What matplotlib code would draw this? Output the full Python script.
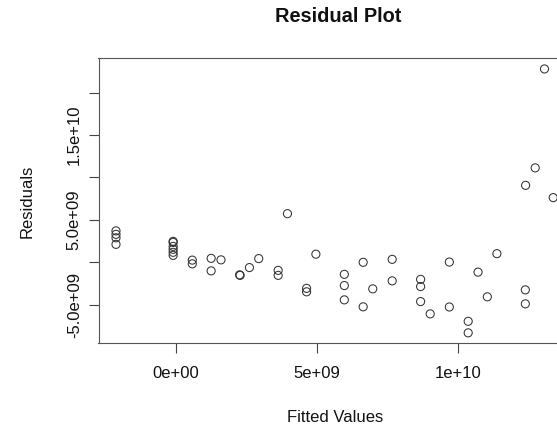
import matplotlib
matplotlib.use("Agg")
import matplotlib.pyplot as plt
import numpy as np

plt.rcParams['font.family'] = ['Liberation Sans', 'DejaVu Sans']

fitted = np.array([
    -2.14, -2.14, -2.14, -2.14,
    -0.11, -0.11, -0.11, -0.11, -0.11, -0.11,
    0.57, 0.57, 1.24, 1.24, 1.59, 2.25, 2.27, 2.60, 2.93, 3.62, 3.62,
    3.95, 4.63, 4.63, 4.96, 5.97, 5.97, 5.97, 6.64, 6.64, 6.98, 7.67, 7.67,
    8.68, 8.68, 8.68, 9.02, 9.70, 9.70, 10.37, 10.37, 10.72, 11.05, 11.39,
    12.40, 12.40, 12.41, 12.75, 13.08, 13.39]) * 1e9
residuals = np.array([
    3.69, 3.28, 2.87, 2.10,
    2.45, 2.33, 1.86, 1.51, 1.16, 0.80,
    0.24, -0.20, 0.45, -1.03, 0.27, -1.50, -1.56, -0.64, 0.42, -0.97, -1.56,
    5.72, -3.09, -3.50, 0.94, -1.44, -2.76, -4.45, -0.02, -5.27, -3.15, 0.33, -2.21,
    -2.03, -2.88, -4.65, -6.10, 0.01, -5.29, -6.98, -8.34, -1.18, -4.09, 1.00,
    -3.27, -4.92, 9.06, 11.12, 22.79, 7.61]) * 1e9

x_ticks = [0, 5e9, 1e10]
x_tick_labels = ["0e+00", "5e+09", "1e+10"]
y_ticks = [-5e9, 0, 5e9, 1e10, 1.5e10, 2e10]
y_tick_labels = ["-5.0e+09", "", "5.0e+09", "", "1.5e+10", ""]

W, H = 557, 426
fig = plt.figure(figsize=(W / 100, H / 100), dpi=100)
fig.patch.set_facecolor('white')

left, right, top, bottom = 98.5, 570.7, 58.4, 343.4
ax = fig.add_axes([left / W, 1 - bottom / H, (right - left) / W, (bottom - top) / H])

ax.scatter(fitted, residuals, s=34, facecolors='none', edgecolors='#333333', linewidths=0.75, zorder=3)

def rpad(a):
    lo, hi = np.min(a), np.max(a)
    r = hi - lo
    return lo - 0.04 * r, hi + 0.04 * r

ax.set_xlim(*rpad(fitted))
ax.set_ylim(*rpad(residuals))

ax.set_xticks(x_ticks)
ax.set_xticklabels(x_tick_labels)
ax.set_yticks(y_ticks)
ax.set_yticklabels(y_tick_labels, rotation=90, va='center')

for s in ax.spines.values():
    s.set_color('#555555')
    s.set_linewidth(0.8)

ax.tick_params(axis='both', direction='out', length=7, width=0.8, color='#444444',
               labelsize=12, labelcolor='#111111')
ax.tick_params(axis='x', pad=9)
ax.tick_params(axis='y', pad=5)

fig.text(338 / W, 1 - 17 / H, "Residual Plot", ha='center', va='center',
         fontsize=14.4, fontweight='bold', color='#111111')
fig.text(335 / W, 1 - 417 / H, "Fitted Values", ha='center', va='center',
         fontsize=12, color='#111111')
fig.text(27.5 / W, 1 - 201 / H, "Residuals", ha='center', va='center',
         rotation=90, fontsize=12, color='#111111')

fig.savefig("out.png", dpi=100, facecolor='white')
